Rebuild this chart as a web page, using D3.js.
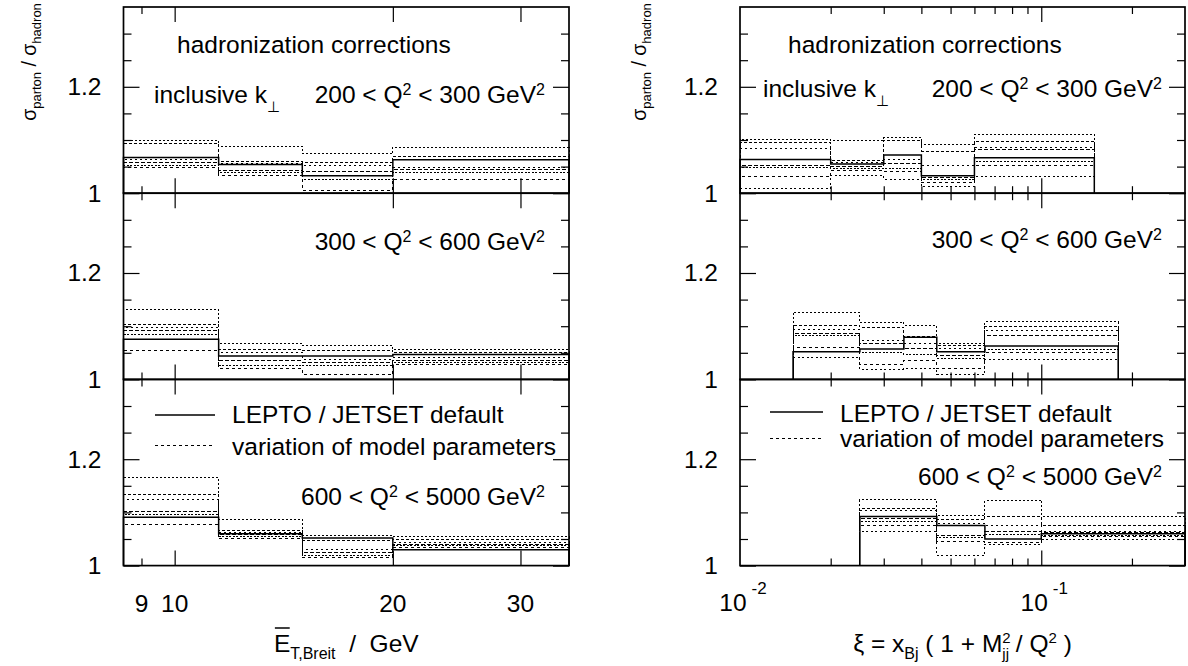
<!DOCTYPE html>
<html lang="en">

<head>
    <meta charset="UTF-8">
    <title>Hadronization corrections</title>
    <style>
        body { margin: 0; background: #fff; }
        svg { display: block; font-family: "Liberation Sans", Arial, Helvetica, sans-serif; }
        text { white-space: pre; fill: #000; }
    </style>
</head>

<body>
    <main></main>

    <script src="https://cdn.jsdelivr.net/npm/d3@7"></script>
    <script>
        // Q^2 ranges, top panel to bottom panel
        var q2Bins = [[200, 300], [300, 600], [600, 5000]];

        // ---- mean E_T in the Breit frame (GeV) ----
        var etRange = [8.5, 35];
        var etEdges = [8.5, 11.5, 15, 20, 35];
        var etMajorTicks = [10, 20, 30];
        var etMinorTicks = [9];
        var etTickLabels = [9, 10, 20, 30];

        var etDefault200 = [1.067, 1.054, 1.033, 1.063];
        var etVariations200 = [
            [1.099, 1.088, 1.074, 1.086],
            [1.093, 1.060, 1.057, 1.069],
            [1.063, 1.056, 1.052, 1.049],
            [1.058, 1.043, 1.041, 1.044],
            [1.053, 1.038, 1.025, 1.038],
            [1.048, 1.033, 1.005, 1.025]];

        var etDefault300 = [1.0755, 1.044, 1.044, 1.047];
        var etVariations300 = [
            [1.131, 1.067, 1.064, 1.057],
            [1.104, 1.057, 1.054, 1.050],
            [1.098, 1.050, 1.038, 1.041],
            [1.091, 1.035, 1.032, 1.035],
            [1.085, 1.027, 1.026, 1.031],
            [1.055, 1.020, 1.009, 1.028]];

        var etDefault600 = [1.091, 1.060, 1.052, 1.030];
        var etVariations600 = [
            [1.165, 1.087, 1.057, 1.054],
            [1.133, 1.066, 1.047, 1.049],
            [1.125, 1.063, 1.030, 1.044],
            [1.102, 1.058, 1.024, 1.040],
            [1.096, 1.055, 1.019, 1.037],
            [1.077, 1.051, 1.015, 1.034]];

        // ---- xi = x_Bj (1 + M_jj^2 / Q^2) ----
        var xiRange = [0.01, 0.3];
        var xiMajorTicks = [0.1];
        var xiMinorTicks = [0.02, 0.03, 0.04, 0.05, 0.06, 0.07, 0.08, 0.09, 0.2];
        var xiTickLabels = [[0.01, '-2'], [0.1, '-1']];

        var xiEdges200 = [0.01, 0.02, 0.03, 0.04, 0.06, 0.15];
        var xiDefault200 = [1.0635, 1.055, 1.0717, 1.033, 1.0666];
        var xiVariations200 = [
            [1.101, 1.099, 1.104, 1.092, 1.111],
            [1.095, 1.062, 1.100, 1.079, 1.097],
            [1.084, 1.058, 1.064, 1.053, 1.085],
            [1.053, 1.050, 1.055, 1.029, 1.082],
            [1.048, 1.047, 1.047, 1.026, 1.059],
            [1.031, 1.043, 1.041, 1.021, 1.053],
            [1.008, 1.033, 1.026, 1.013, 1.032]];

        var xiEdges300 = [0.015, 0.025, 0.035, 0.045, 0.065, 0.18];
        var xiDefault300 = [1.052, 1.057, 1.079, 1.052, 1.063];
        var xiVariations300 = [
            [1.126, 1.107, 1.102, 1.068, 1.108],
            [1.102, 1.098, 1.080, 1.063, 1.099],
            [1.094, 1.074, 1.068, 1.058, 1.091],
            [1.087, 1.068, 1.058, 1.045, 1.082],
            [1.082, 1.050, 1.047, 1.040, 1.057],
            [1.060, 1.028, 1.035, 1.020, 1.050],
            [1.042, 1.019, 1.020, 1.009, 1.038]];

        var xiEdges600 = [0.025, 0.045, 0.065, 0.1, 0.3];
        var xiDefault600 = [1.0925, 1.0755, 1.050, 1.060];
        var xiVariations600 = [
            [1.124, 1.094, 1.123, 1.093],
            [1.108, 1.086, 1.093, 1.076],
            [1.103, 1.080, 1.076, 1.064],
            [1.088, 1.057, 1.064, 1.062],
            [1.083, 1.052, 1.058, 1.057],
            [1.076, 1.045, 1.044, 1.054],
            [1.064, 1.019, 1.040, 1.050]];

        var yRange = [1, 1.35];
        var yMajorTicks = [1, 1.2];
        var yMinorTicks = [1.05, 1.1, 1.15, 1.25, 1.3];

        var dashes = ['2,2', '3,2', '2,3', '4,2', '2,1.5', '3,3', '2,2.5'];

        var fontMain = 24.5;
        var panelTop = 7;
        var panelH = 186.2;

        var svg = d3.select('main')
            .append('svg')
            .attr('width', 1188)
            .attr('height', 666);

        // text with sub/superscript pieces: [string, baseline shift, font size, dx]
        function richText(parent, x, y, parts, size, anchor) {
            var t = parent.append('text')
                .attr('x', x)
                .attr('y', y)
                .attr('font-size', size)
                .attr('text-anchor', anchor || 'start');
            var shift = 0;
            parts.forEach(function (p) {
                var s = p[1] || 0;
                var ts = t.append('tspan')
                    .attr('dy', s - shift)
                    .attr('font-size', p[2] || size)
                    .text(p[0]);
                if (p[3]) ts.attr('dx', p[3]);
                shift = s;
            });
            return t;
        }

        function q2Parts(bin) {
            return [[bin[0] + ' < Q'], ['2', -8, 16], [' < ' + bin[1] + ' GeV', 0], ['2', -8, 16]];
        }

        function histPoints(edges, values) {
            var pts = [[edges[0], 1]];
            values.forEach(function (v, i) {
                pts.push([edges[i], v]);
                pts.push([edges[i + 1], v]);
            });
            pts.push([edges[edges.length - 1], 1]);
            return pts;
        }

        function drawColumn(col) {
            var x = d3.scaleLog().domain(col.range).range([col.x0, col.x1]);
            var g = svg.append('g');

            col.panels.forEach(function (p, k) {
                var top = panelTop + k * panelH;
                var y = d3.scaleLinear().domain(yRange).range([top + panelH, top]);
                var pg = g.append('g');

                var line = d3.line()
                    .x(function (d) { return x(d[0]); })
                    .y(function (d) { return y(d[1]); });

                // variations of the model parameters
                p.variations.forEach(function (v, i) {
                    pg.append('path')
                        .attr('d', line(histPoints(p.edges, v)))
                        .attr('fill', 'none')
                        .attr('stroke', '#000')
                        .attr('stroke-width', 1)
                        .attr('shape-rendering', 'crispEdges')
                        .attr('stroke-dasharray', dashes[i % dashes.length]);
                });

                // default LEPTO / JETSET
                pg.append('path')
                    .attr('d', line(histPoints(p.edges, p.def)))
                    .attr('fill', 'none')
                    .attr('stroke', '#000')
                    .attr('stroke-width', 1.5);

                // inward ticks on all four sides
                function yAxis(fn, vals, len, labels) {
                    return fn(y).tickValues(vals).tickSize(-len).tickPadding(22)
                        .tickFormat(labels ? function (d) { return d === 1 ? '1' : d3.format('.1f')(d); } : '');
                }
                pg.append('g').attr('transform', 'translate(' + col.x0 + ',0)')
                    .call(yAxis(d3.axisLeft, yMajorTicks, 16, true));
                pg.append('g').attr('transform', 'translate(' + col.x0 + ',0)')
                    .call(yAxis(d3.axisLeft, yMinorTicks, 8, false));
                pg.append('g').attr('transform', 'translate(' + col.x1 + ',0)')
                    .call(yAxis(d3.axisRight, yMajorTicks, 16, false));
                pg.append('g').attr('transform', 'translate(' + col.x1 + ',0)')
                    .call(yAxis(d3.axisRight, yMinorTicks, 8, false));

                pg.append('g').attr('transform', 'translate(0,' + (top + panelH) + ')')
                    .call(d3.axisBottom(x).tickValues(col.major).tickSize(-15).tickFormat(''));
                pg.append('g').attr('transform', 'translate(0,' + (top + panelH) + ')')
                    .call(d3.axisBottom(x).tickValues(col.minor).tickSize(-7).tickFormat(''));
                pg.append('g').attr('transform', 'translate(0,' + top + ')')
                    .call(d3.axisTop(x).tickValues(col.major).tickSize(-15).tickFormat(''));
                pg.append('g').attr('transform', 'translate(0,' + top + ')')
                    .call(d3.axisTop(x).tickValues(col.minor).tickSize(-7).tickFormat(''));

                pg.selectAll('.domain').remove();
                pg.selectAll('.tick line').attr('stroke', '#000').attr('stroke-width', 1.2);
                pg.selectAll('.tick text')
                    .attr('font-size', fontMain)
                    .attr('font-family', 'Liberation Sans, Arial, sans-serif')
                    .attr('fill', '#000');

                pg.append('rect')
                    .attr('x', col.x0)
                    .attr('y', top)
                    .attr('width', col.x1 - col.x0)
                    .attr('height', panelH)
                    .attr('fill', 'none')
                    .attr('stroke', '#000')
                    .attr('stroke-width', 1.7);

                richText(pg, col.q2X, col.q2Y[k], q2Parts(q2Bins[k]), fontMain, 'end');
            });

            // annotations in the top panel
            richText(g, col.hadX, 53, [['hadronization corrections']], fontMain);
            richText(g, col.incX, col.incY, [['inclusive k'], ['\u22a5', 9, 15]], fontMain);

            // legend in the bottom panel
            g.append('line')
                .attr('x1', col.legX[0]).attr('x2', col.legX[1])
                .attr('y1', col.legY[0]).attr('y2', col.legY[0])
                .attr('stroke', '#000').attr('stroke-width', 1.5);
            g.append('line')
                .attr('x1', col.legX[0]).attr('x2', col.legX[1])
                .attr('y1', col.legY[1]).attr('y2', col.legY[1])
                .attr('stroke', '#000').attr('stroke-width', 1)
                .attr('shape-rendering', 'crispEdges')
                .attr('stroke-dasharray', '3,3');
            richText(g, col.legX[1] + 17, col.legTextY[0], [['LEPTO / JETSET default']], fontMain);
            richText(g, col.legX[1] + 17, col.legTextY[1], [['variation of model parameters']], fontMain);

            // y title
            var yt = g.append('g')
                .attr('transform', 'translate(' + col.yTitleX + ',62) rotate(-90)');
            richText(yt, 0, 0, [['\u03c3'], ['parton', 5, 13], [' / ', 0], ['\u03c3'], ['hadron', 5, 13]], 19.5, 'middle');

            col.tickLabels(g, x);
            col.title(g, (col.x0 + col.x1) / 2);
        }

        drawColumn({
            x0: 123.5, x1: 569, range: etRange,
            major: etMajorTicks, minor: etMinorTicks,
            panels: [
                { edges: etEdges, def: etDefault200, variations: etVariations200 },
                { edges: etEdges, def: etDefault300, variations: etVariations300 },
                { edges: etEdges, def: etDefault600, variations: etVariations600 }],
            q2X: 545, q2Y: [103, 250, 505],
            hadX: 177, incX: 154, incY: 103,
            legX: [155, 215], legY: [415, 445], legTextY: [423, 455],
            yTitleX: 36,
            tickLabels: function (g, x) {
                g.selectAll('.etlabel')
                    .data(etTickLabels)
                    .enter()
                    .append('text')
                    .attr('class', 'etlabel')
                    .attr('x', function (d) { return x(d); })
                    .attr('y', 612)
                    .attr('text-anchor', 'middle')
                    .attr('font-size', fontMain)
                    .text(function (d) { return d; });
            },
            title: function (g, cx) {
                var t = richText(g, cx, 652, [['E'], ['T,Breit', 7, 16], ['  /  GeV', 0]], fontMain, 'middle');
                // bar over the E
                var n = t.node();
                var s = n.getStartPositionOfChar(0);
                var e = n.getEndPositionOfChar(0);
                g.append('line')
                    .attr('x1', s.x + 1).attr('x2', e.x - 0.5)
                    .attr('y1', 628).attr('y2', 628)
                    .attr('stroke', '#000').attr('stroke-width', 1.5);
            }
        });

        drawColumn({
            x0: 740, x1: 1185, range: xiRange,
            major: xiMajorTicks, minor: xiMinorTicks,
            panels: [
                { edges: xiEdges200, def: xiDefault200, variations: xiVariations200 },
                { edges: xiEdges300, def: xiDefault300, variations: xiVariations300 },
                { edges: xiEdges600, def: xiDefault600, variations: xiVariations600 }],
            q2X: 1162, q2Y: [97, 248, 485],
            hadX: 788, incX: 763, incY: 97,
            legX: [770, 823], legY: [412, 438], legTextY: [422, 447],
            yTitleX: 646,
            tickLabels: function (g, x) {
                xiTickLabels.forEach(function (d) {
                    richText(g, x(d[0]) + 3, 611, [['10'], [d[1], -17, 17, 5]], fontMain, 'middle');
                });
            },
            title: function (g, cx) {
                richText(g, cx, 652, [
                    ['\u03be = x'], ['Bj', 7, 16], [' ( 1 + M', 0],
                    ['2', -9, 15], ['jj', 7, 15, -8.3],
                    [' / Q', 0], ['2', -9, 15], [' )', 0]], fontMain, 'middle');
            }
        });
    </script>
</body>

</html>
